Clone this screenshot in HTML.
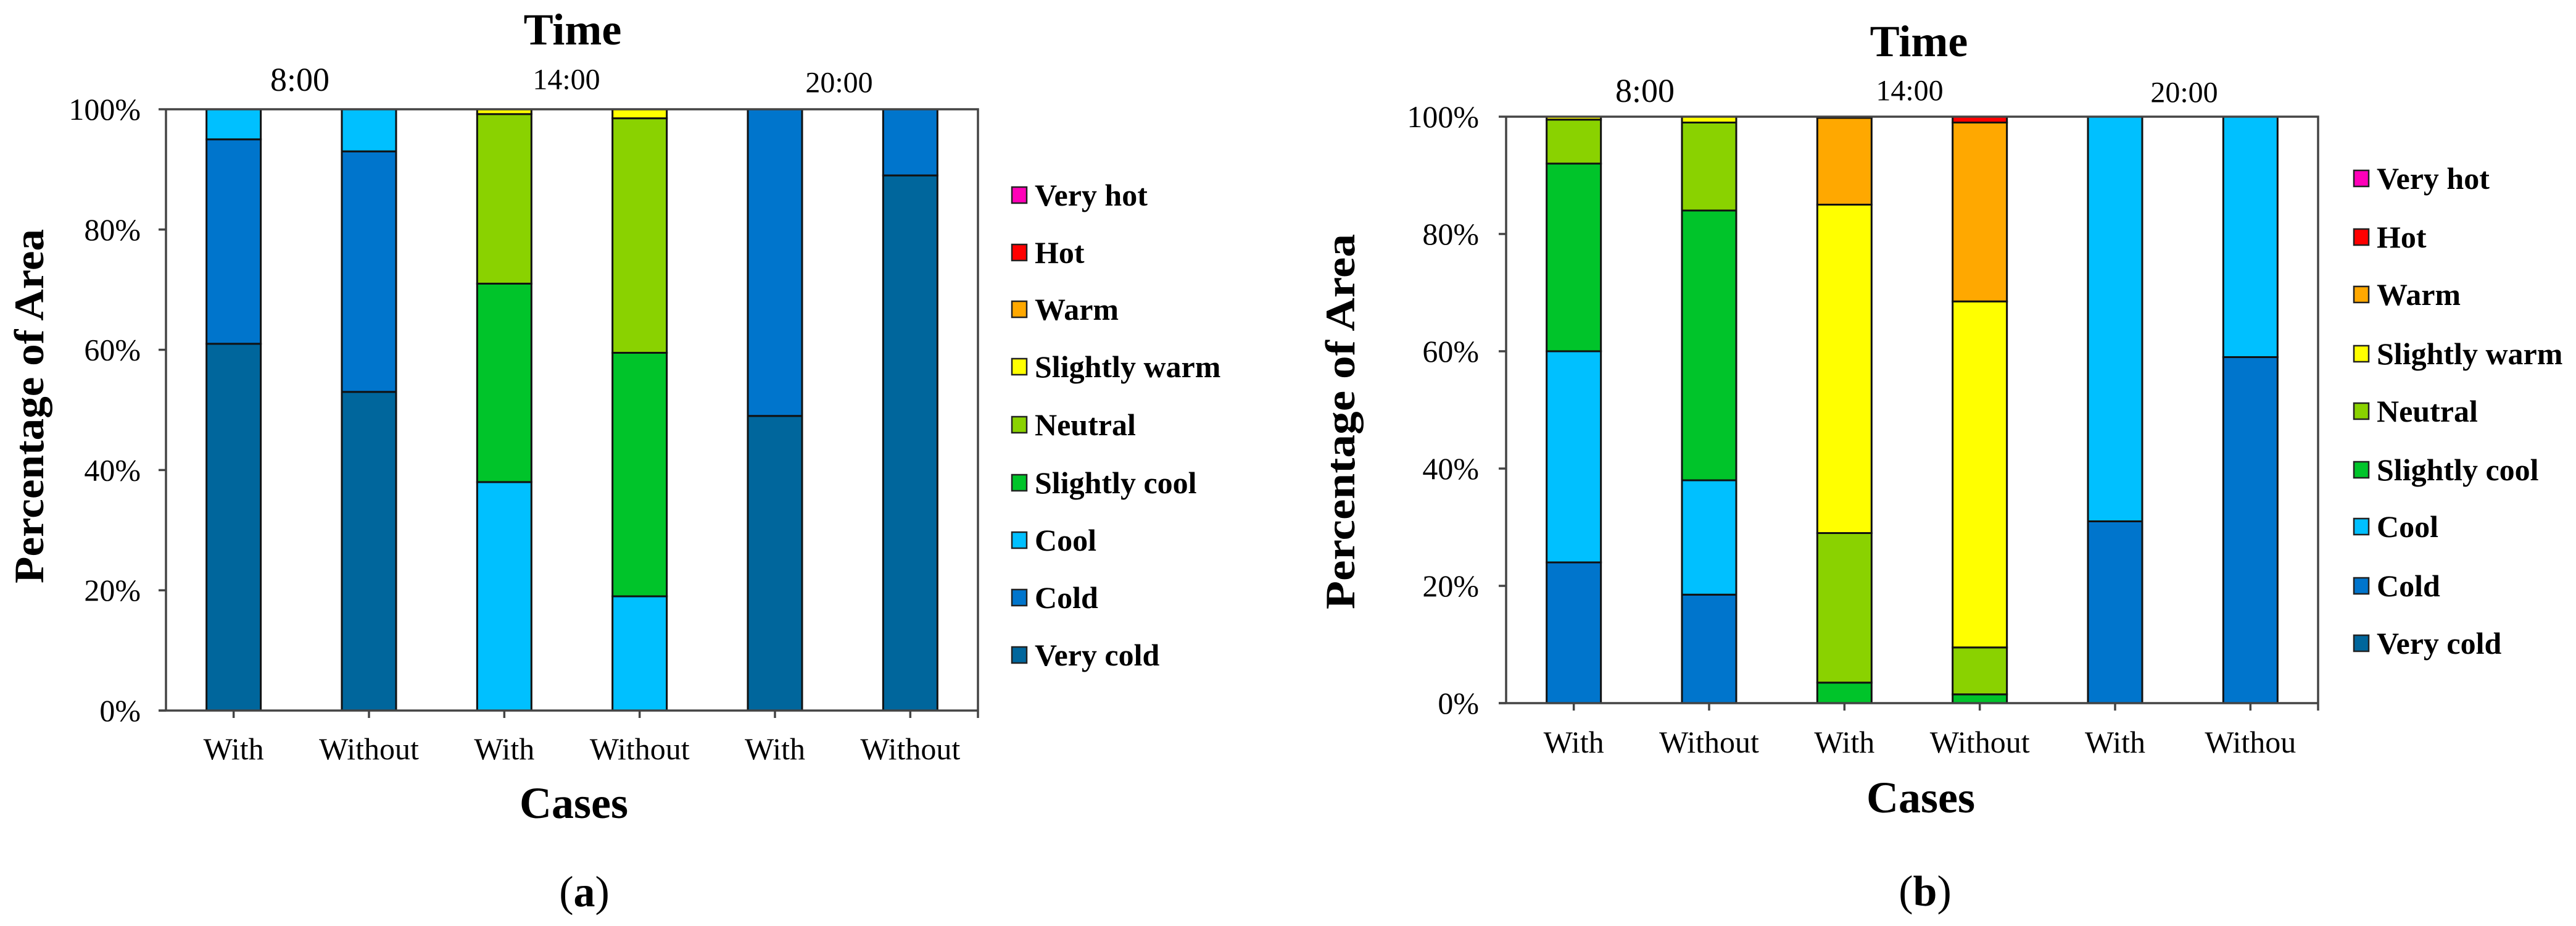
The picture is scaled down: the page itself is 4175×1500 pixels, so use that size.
<!DOCTYPE html>
<html><head><meta charset="utf-8"><style>
html,body{margin:0;padding:0;background:#fff;}
svg{display:block;font-family:"Liberation Serif",serif;}
</style></head><body>
<svg id="fig" width="4175" height="1500" viewBox="0 0 4175 1500"></svg>
<script>
const categories = ["Very cold","Cold","Cool","Slightly cool","Neutral","Slightly warm","Warm","Hot","Very hot"];
const colors = ["#00669c","#0075cc","#00c0ff","#00c42a","#8ad200","#ffff00","#ffa800","#ff0000","#ff00b8"];
const xLabels = ["With","Without","With","Without","With","Without"];
const xLabelsB = ["With","Without","With","Without","With","Withou"];
const times = ["8:00","14:00","20:00"];
const yTicks = [0,20,40,60,80,100];
// series per category for panel (a), 6 bars each
const aVeryCold = [61,53,0,0,49,89];
const aCold = [34,40,0,0,51,11];
const aCool = [5,7,38,19,0,0];
const aSlightlyCool = [0,0,33,40.5,0,0];
const aNeutral = [0,0,28.2,39,0,0];
const aSlightlyWarm = [0,0,0.8,1.5,0,0];
const aWarm = [0,0,0,0,0,0];
const aHot = [0,0,0,0,0,0];
const aVeryHot = [0,0,0,0,0,0];
// panel (b)
const bVeryCold = [0,0,0,0,0,0];
const bCold = [24,18.5,0,0,31,59];
const bCool = [36,19.5,0,0,69,41];
const bSlightlyCool = [32,46,3.5,1.5,0,0];
const bNeutral = [7.5,15,25.5,8,0,0];
const bSlightlyWarm = [0.5,1,56,59,0,0];
const bWarm = [0,0,14.8,30.5,0,0];
const bHot = [0,0,0.2,1,0,0];
const bVeryHot = [0,0,0,0,0,0];

const svg = document.getElementById('fig');
const NS = "http://www.w3.org/2000/svg";
function mk(tag, attrs, parent){const e=document.createElementNS(NS,tag);for(const k in attrs)e.setAttribute(k,attrs[k]);(parent||svg).appendChild(e);return e;}
function txt(str, attrs, parent){const e=mk('text',attrs,parent);e.textContent=str;return e;}

function panel(cfg){
  const g = mk('g',{});
  
  
  const L=cfg.left,R=cfg.right,T=cfg.top,B=cfg.bottom;
  const catW=(R-L)/6, barW=88;
  const xC=i=>L+catW*(i+0.5);
  const yS=v=>B-(B-T)*v/100;
  // bars
  cfg.series.forEach((s,si)=>{
    let acc=[0,0,0,0,0,0];
    for(let k=0;k<si;k++) cfg.series[k].forEach((v,i)=>acc[i]+=v);
    s.forEach((v,i)=>{
      if(v<=0) return;
      const r=mk('rect',{x:xC(i)-barW/2,y:yS(acc[i]+v),width:barW,height:yS(acc[i])-yS(acc[i]+v),fill:colors[si],stroke:"#111",'stroke-width':3},g);
      
      
    });
  });
  // axes
  const ax=mk('path',{d:`M${L},${T}H${R}V${B+12}M${L-12},${B}H${R}M${L},${T}V${B}`,fill:"none",stroke:"#444",'stroke-width':3.5},g);
  
  
  yTicks.forEach(t=>{
    mk('line',{x1:L-12,x2:L,y1:yS(t),y2:yS(t),stroke:"#444",'stroke-width':3.5},g);
    const tl=txt(t+'%',{x:cfg.yLabX,y:yS(t),'text-anchor':'end','dominant-baseline':'central','font-size':50},g);
    
    
  });
  cfg.xl.forEach((lab,i)=>{
    mk('line',{x1:xC(i),x2:xC(i),y1:B,y2:B+12,stroke:"#444",'stroke-width':3.5},g);
    const tl=txt(lab,{x:xC(i),y:cfg.xLabY,'text-anchor':'middle','dominant-baseline':'central','font-size':50},g);
    
    
  });
  times.forEach((t,i)=>{
    const tl=txt(t,{x:cfg.timeX[i],y:cfg.timeY[i],'text-anchor':'middle','dominant-baseline':'central','font-size':i==0?54:48},g);
    
    
  });
  let e=txt('Time',{x:cfg.titleX,y:cfg.titleY,'text-anchor':'middle','dominant-baseline':'central','font-size':72,'font-weight':'bold'},g);
  
  
  e=txt('Cases',{x:cfg.casesX,y:cfg.casesY,'text-anchor':'middle','dominant-baseline':'central','font-size':72,'font-weight':'bold'},g);
  
  
  e=txt('Percentage of Area',{x:0,y:0,'text-anchor':'middle','dominant-baseline':'central','font-size':68,'font-weight':'bold',textLength:cfg.yTitleLen,lengthAdjust:'spacingAndGlyphs',transform:`translate(${cfg.yTitleX},${cfg.yTitleY}) rotate(-90)`},g);
  
  
  // panel label
  e=mk('text',{x:cfg.capX,y:cfg.capY,'text-anchor':'middle','dominant-baseline':'central','font-size':70},g);
  
  
  e.appendChild(document.createTextNode('('));
  const ts=mk('tspan',{'font-weight':'bold'},e);ts.textContent=cfg.cap;
  e.appendChild(document.createTextNode(')'));
  // legend (top = Very hot)
  for(let k=8;k>=0;k--){
    const row=8-k, y=cfg.legY[row];
    const le=mk('g',{},g);
    
    
    mk('rect',{x:cfg.legX,y:y-13,width:24,height:26,fill:colors[k],stroke:"#222",'stroke-width':2.5},le);
    txt(categories[k],{x:cfg.legX+37,y:y,'dominant-baseline':'central','font-size':50,'font-weight':'bold'},le);
  }
}
panel({name:'panel-a',left:269,right:1585,top:177,bottom:1151,yLabX:228,xLabY:1213,
  xl:xLabels,timeX:[486,918,1360],timeY:[129,129,134],titleX:928,titleY:48,casesX:930,casesY:1301,
  yTitleX:47,yTitleY:658,yTitleLen:574,capX:947,capY:1445,cap:'a',legX:1640,
  legY:[316,409,501,594,688,782,875,968,1061],
  series:[aVeryCold,aCold,aCool,aSlightlyCool,aNeutral,aSlightlyWarm,aWarm,aHot,aVeryHot]});
panel({name:'panel-b',left:2441,right:3757,top:189,bottom:1139,yLabX:2397,xLabY:1202,
  xl:xLabelsB,timeX:[2666,3095,3540],timeY:[147,147,150],titleX:3110,titleY:67,casesX:3113,casesY:1292,
  yTitleX:2172,yTitleY:683,yTitleLen:608,capX:3120,capY:1444,cap:'b',legX:3815,
  legY:[289,384,477,573,666,761,853,949,1042],
  series:[bVeryCold,bCold,bCool,bSlightlyCool,bNeutral,bSlightlyWarm,bWarm,bHot,bVeryHot]});
</script>
</body></html>
